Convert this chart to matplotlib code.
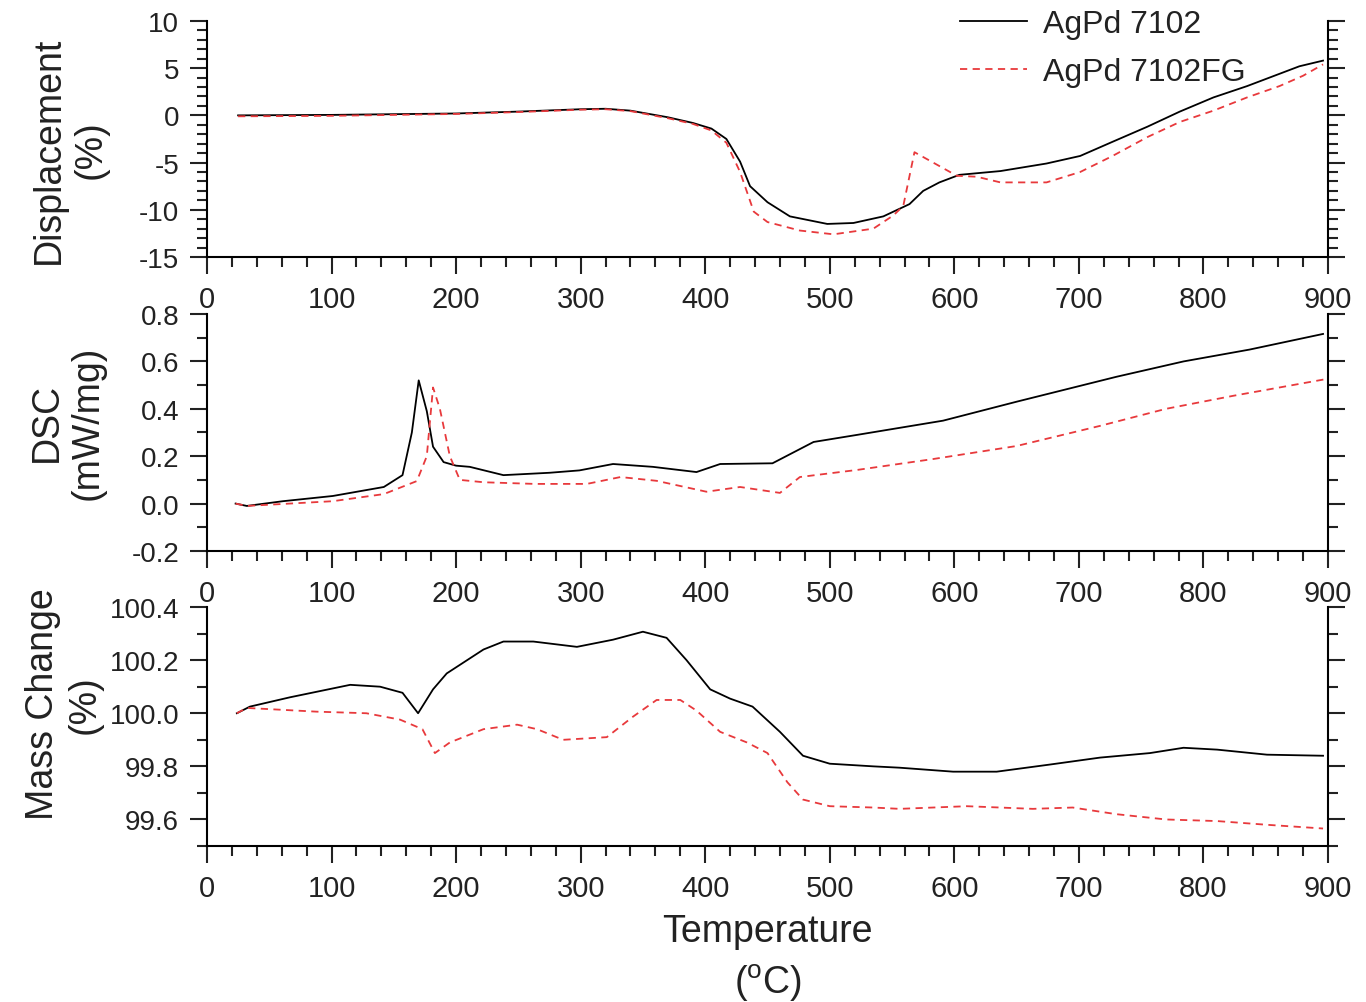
import matplotlib
matplotlib.use("Agg")
import matplotlib.pyplot as plt
from matplotlib.ticker import MultipleLocator

plt.rcParams['font.family'] = ['Liberation Sans', 'DejaVu Sans']

# Displacement (%) vs temperature
disp_t_a = [25, 100, 200, 250, 300, 320, 340, 370, 390, 405, 417, 428, 436, 450, 468, 498, 519, 543,
            564, 575, 588, 604, 637, 674, 701, 727, 755, 781, 808, 835, 861, 877, 896]
disp_a = [0.0, 0.05, 0.2, 0.4, 0.65, 0.7, 0.5, -0.2, -0.8, -1.4, -2.5, -4.9, -7.5, -9.2, -10.7, -11.5, -11.4, -10.7,
          -9.4, -8.0, -7.1, -6.3, -5.9, -5.1, -4.3, -2.8, -1.2, 0.4, 1.9, 3.1, 4.4, 5.2, 5.8]
disp_t_b = [25, 100, 200, 250, 300, 320, 340, 370, 390, 405, 417, 428, 439, 450, 476, 503, 535, 551,
            559, 568, 583, 602, 618, 637, 674, 701, 727, 755, 781, 808, 835, 861, 880, 896]
disp_b = [-0.1, -0.05, 0.15, 0.35, 0.6, 0.65, 0.45, -0.3, -0.9, -1.6, -2.9, -6.0, -10.2, -11.3, -12.2, -12.6, -12.0, -10.6,
          -9.6, -3.9, -5.0, -6.4, -6.5, -7.1, -7.1, -6.0, -4.3, -2.3, -0.7, 0.5, 1.9, 3.1, 4.2, 5.4]

# DSC (mW/mg)
dsc_t_a = [23, 32, 61, 101, 142, 157, 164.5, 170, 176.5, 181.5, 190, 200, 211, 238, 275, 299, 326, 358,
           393, 412, 454, 487, 522, 591, 650, 730, 784, 837, 896]
dsc_a = [0.0, -0.01, 0.01, 0.032, 0.07, 0.12, 0.30, 0.52, 0.39, 0.24, 0.175, 0.16, 0.155, 0.12, 0.13, 0.14, 0.167, 0.155,
         0.133, 0.167, 0.17, 0.26, 0.29, 0.35, 0.43, 0.535, 0.60, 0.65, 0.716]
dsc_t_b = [23, 32, 101, 142, 168.5, 176.5, 181.5, 187, 195, 203, 222, 263, 305, 332, 361, 401, 428, 460,
           476, 522, 583, 650, 717, 770, 824, 899]
dsc_b = [0.0, -0.01, 0.01, 0.04, 0.095, 0.2, 0.49, 0.40, 0.2, 0.10, 0.09, 0.083, 0.083, 0.112, 0.096, 0.05, 0.07, 0.045,
         0.112, 0.142, 0.188, 0.243, 0.328, 0.40, 0.455, 0.526]

# Mass change (%)
mass_t_a = [24, 34.5, 66.6, 115, 139, 157, 169.5, 181.5, 192.5, 222, 238, 262, 297, 326, 350, 369, 385,
            404, 420, 438, 460, 478.5, 500, 535, 556, 599, 634, 677, 717, 757, 784, 811, 851, 896]
mass_a = [100.0, 100.025, 100.06, 100.107, 100.10, 100.077, 100.0, 100.09, 100.15, 100.24, 100.27, 100.27, 100.25,
          100.277, 100.307, 100.284, 100.20, 100.09, 100.055, 100.025, 99.93, 99.84, 99.81, 99.80, 99.795, 99.78,
          99.78, 99.807, 99.833, 99.85, 99.87, 99.863, 99.844, 99.84]
mass_t_b = [24, 32, 88, 128, 155, 173, 183, 195, 222, 249, 265, 286, 321, 342, 361, 380, 393, 412, 433.5,
            450, 466, 478.5, 500, 535, 556, 610, 663, 695, 730, 770, 811, 851, 896]
mass_b = [100.0, 100.02, 100.006, 100.0, 99.976, 99.94, 99.85, 99.89, 99.94, 99.957, 99.94, 99.90, 99.91, 99.987,
          100.05, 100.05, 100.01, 99.93, 99.89, 99.85, 99.74, 99.675, 99.65, 99.645, 99.64, 99.65, 99.64, 99.645,
          99.62, 99.60, 99.594, 99.58, 99.566]

label_a = 'AgPd 7102'
label_b = 'AgPd 7102FG'
red = '#e8393c'

fig = plt.figure(figsize=(13.66, 10.03), dpi=100)
ax1 = fig.add_axes([0.1515, 0.7428, 0.8207, 0.2353])
ax2 = fig.add_axes([0.1515, 0.4497, 0.8207, 0.2362])
ax3 = fig.add_axes([0.1515, 0.1555, 0.8207, 0.2383])

panels = [
    (ax1, disp_t_a, disp_a, disp_t_b, disp_b, (-15, 10), 5, 1, 'Displacement\n(%)', -0.088, 0.458, '%g'),
    (ax2, dsc_t_a, dsc_a, dsc_t_b, dsc_b, (-0.2, 0.8), 0.2, 0.1, 'DSC\n(mW/mg)', -0.09, 0.546, '%.1f'),
    (ax3, mass_t_a, mass_a, mass_t_b, mass_b, (99.5, 100.4), 0.2, 0.1, 'Mass Change\n(%)', -0.093, 0.596, '%.1f'),
]

for ax, ta, ya, tb, yb, ylim, major, minor, ylabel, lx, ly, fmt in panels:
    ax.plot(ta, ya, color='black', lw=1.3, label=label_a)
    ax.plot(tb, yb, color=red, lw=1.3, dashes=(4, 3), label=label_b)
    ax.set_xlim(0, 900)
    ax.set_ylim(*ylim)
    ax.xaxis.set_major_locator(MultipleLocator(100))
    ax.xaxis.set_minor_locator(MultipleLocator(20))
    ax.yaxis.set_major_locator(MultipleLocator(major))
    ax.yaxis.set_minor_locator(MultipleLocator(minor))
    ax.yaxis.set_major_formatter(matplotlib.ticker.FormatStrFormatter(fmt))
    ax.spines['top'].set_visible(False)
    for s in ['left', 'right', 'bottom']:
        ax.spines[s].set_linewidth(1.5)
    ax.tick_params(which='both', direction='out', right=True, top=False, width=1.5,
                   labelsize=20, pad=8, colors='#222222')
    ax.tick_params(axis='x', labelsize=21)
    ax.tick_params(which='major', length=12)
    ax.tick_params(which='minor', length=7)
    ax.set_ylabel(ylabel, fontsize=27, color='#222222')
    ax.yaxis.set_label_coords(lx, ly)

ax3.set_xlabel('Temperature\n($\\mathregular{^o}$C)', fontsize=27, color='#222222', linespacing=1.4)
ax3.xaxis.set_label_coords(0.5, -0.28)

ax1.legend(loc='upper left', bbox_to_anchor=(0.672, 1.05), frameon=False, fontsize=23,
           handlelength=2.1, handletextpad=0.5, labelspacing=0.55, borderpad=0, borderaxespad=0,
           labelcolor='#222222')

fig.savefig('out.png', dpi=100)
